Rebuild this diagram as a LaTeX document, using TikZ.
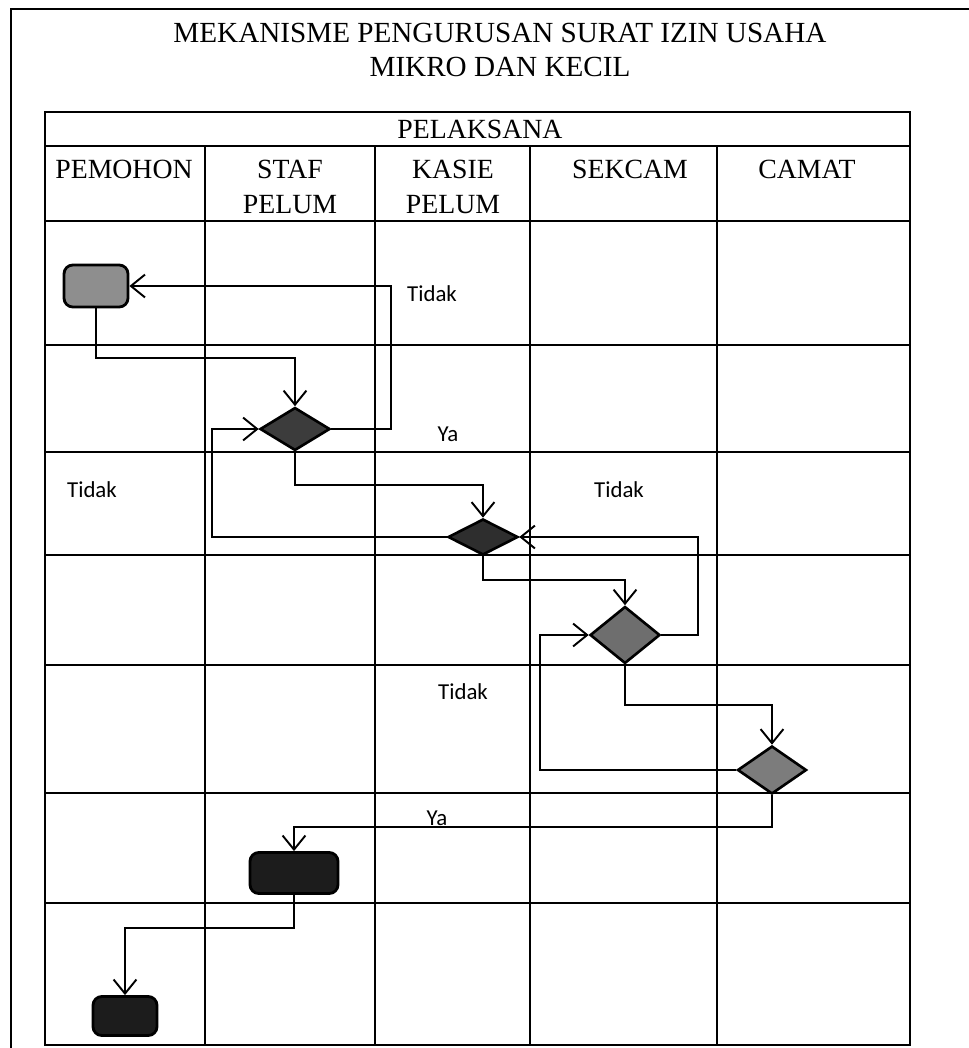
\documentclass[tikz,border=0pt]{standalone}
\usepackage{fontspec}
\setmainfont{Liberation Serif}
\newfontfamily\lblfont{Carlito}
\usepackage{xcolor}
\usetikzlibrary{shapes.geometric, arrows.meta, positioning}

\definecolor{startgray}{HTML}{8E8E8E}
\definecolor{darkgray1}{HTML}{3C3C3C}
\definecolor{darkgray2}{HTML}{2E2E2E}
\definecolor{midgray1}{HTML}{6E6E6E}
\definecolor{midgray2}{HTML}{7C7C7C}
\definecolor{blackish}{HTML}{1C1C1C}

\tikzset{
  grid/.style={line width=1.3pt},
  act/.style={draw=black, line width=1.6pt, rounded corners=5pt, inner sep=0pt},
  decide/.style={diamond, draw=black, line width=1.5pt, inner sep=0pt},
  flow/.style={line width=1.1pt, -{Straight Barb[length=8pt,width=13pt]}},
  lbl/.style={font=\lblfont\fontsize{13}{15}\selectfont},
  lane/.style={font=\fontsize{15.8}{20.4}\selectfont, align=center}
}

\begin{document}
\begin{tikzpicture}[x=0.02cm, y=-0.02cm]
\useasboundingbox (0,0) rectangle (969,1048);

% Frame
\draw[line width=1.1pt] (11,1048) -- (11,9) -- (969,9);

% Title
\node[font=\fontsize{16.6}{19.8}\selectfont, align=center] (title) at (500,50)
  {MEKANISME PENGURUSAN SURAT IZIN USAHA\\MIKRO DAN KECIL};

% Table
\draw[grid] (45,112) rectangle (910,1045);
\draw[grid] (45,146) -- (910,146);
\foreach \y in {221,345,452,555,665,793,903} {
    \draw[grid] (45,\y) -- (910,\y);
}
\foreach \x in {205,375,530,717} {
    \draw[grid] (\x,146) -- (\x,1045);
}

% Lanes
\node[lane] (pelaksana) at (480,129) {PELAKSANA};
\node[lane] (pemohon) at (124,169) {PEMOHON};
\node[lane] (staf) at (290,187) {STAF\\PELUM};
\node[lane] (kasie) at (453,187) {KASIE\\PELUM};
\node[lane] (sekcam) at (630,169) {SEKCAM};
\node[lane] (camat) at (807,169) {CAMAT};

% Activities
\node[act, fill=startgray, minimum width=1.28cm, minimum height=0.84cm] (s0) at (96,286) {};
\node[decide, fill=darkgray1, minimum width=1.4cm, minimum height=0.86cm] (d1) at (295,429) {};
\node[decide, fill=darkgray2, minimum width=1.4cm, minimum height=0.72cm] (d2) at (483,537) {};
\node[decide, fill=midgray1, minimum width=1.4cm, minimum height=1.14cm] (d3) at (625,635) {};
\node[decide, fill=midgray2, minimum width=1.38cm, minimum height=0.96cm] (d4) at (772,770) {};
\node[act, fill=blackish, minimum width=1.76cm, minimum height=0.82cm] (r1) at (294,873) {};
\node[act, fill=blackish, minimum width=1.28cm, minimum height=0.78cm] (r2) at (125,1016) {};

% Flow
\draw[flow] (s0.south) -- ++(0,50) -| (d1.north);
\draw[flow] (d1.east) -- ++(60,0) |- (s0.east);
\draw[flow] (d1.south) -- ++(0,33) -| (d2.north);
\draw[flow] (d2.west) -- ++(-235,0) |- (d1.west);
\draw[flow] (d2.south) -- ++(0,24) -| (d3.north);
\draw[flow] (d3.east) -- ++(37,0) |- (d2.east);
\draw[flow] (d3.south) -- ++(0,40) -| (d4.north);
\draw[flow] (d4.west) -- ++(-196,0) |- (d3.west);
\draw[flow] (d4.south) -- ++(0,32) -| (r1.north);
\draw[flow] (r1.south) -- ++(0,33) -| (r2.north);

% Labels
\node[lbl] (tidak1) at (432,294) {Tidak};
\node[lbl] (ya1) at (448,434) {Ya};
\node[lbl] (tidak2) at (92,490) {Tidak};
\node[lbl] (tidak3) at (619,490) {Tidak};
\node[lbl] (tidak4) at (463,692) {Tidak};
\node[lbl] (ya2) at (437,818) {Ya};

\end{tikzpicture}
\end{document}
